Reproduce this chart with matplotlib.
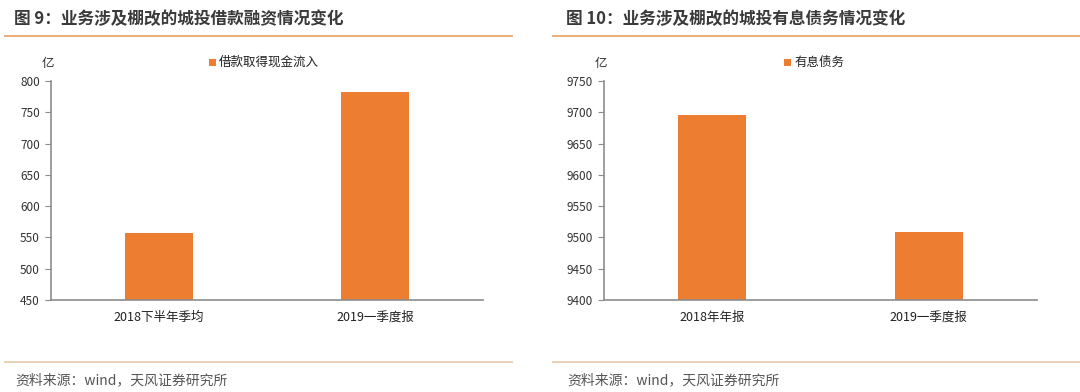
import matplotlib
matplotlib.use("Agg")
import matplotlib.pyplot as plt
from matplotlib.patches import Rectangle
from matplotlib.lines import Line2D

plt.rcParams['font.family'] = ['Noto Sans CJK SC', 'DejaVu Sans']

# Data
left_title = "图 9：业务涉及棚改的城投借款融资情况变化"
left_categories = ["2018下半年季均", "2019一季度报"]
left_values = [557, 782]
left_series = "借款取得现金流入"
left_yticks = [450, 500, 550, 600, 650, 700, 750, 800]

right_title = "图 10：业务涉及棚改的城投有息债务情况变化"
right_categories = ["2018年年报", "2019一季度报"]
right_values = [9696, 9509]
right_series = "有息债务"
right_yticks = [9400, 9450, 9500, 9550, 9600, 9650, 9700, 9750]

unit = "亿"
source = "资料来源：wind，天风证券研究所"

W, H = 1080, 392
BAR = "#ED7D31"
TXT = "#333333"
AX = "#8C8C8C"

fig = plt.figure(figsize=(W / 100, H / 100), dpi=100)
fig.patch.set_facecolor("white")

def fx(x):
    return x / W

def fy(y):
    return 1 - y / H

def panel(x0, x1, ax_l, ax_r, title, title_x, cats, vals, series, yticks, bw, leg_x):
    # title
    fig.text(fx(title_x), fy(19), title, fontsize=12, fontweight='bold',
             color="#3a3a3a", va='center', ha='left')
    fig.add_artist(Line2D([fx(x0), fx(x1)], [fy(36), fy(36)], color="#E9A56B", lw=1.3))
    fig.add_artist(Line2D([fx(x0), fx(x1)], [fy(362), fy(362)], color="#E6CDAE", lw=1.3))
    fig.text(fx(title_x + 1), fy(380), source, fontsize=10, color="#555555",
             va='center', ha='left')

    ax = fig.add_axes([fx(ax_l), fy(300), fx(ax_r - ax_l), (300 - 81) / H])
    xs = list(range(len(cats)))
    ax.bar(xs, vals, width=bw, color=BAR, label=series, zorder=2)
    ax.set_xlim(-0.5, len(cats) - 0.5)
    ax.set_ylim(yticks[0], yticks[-1])
    ax.set_yticks(yticks)
    ax.set_yticklabels([str(t) for t in yticks], fontsize=8.5, color=TXT,
                       fontweight='medium')
    ax.set_xticks(xs)
    ax.set_xticklabels(cats, fontsize=9, color="#222222")
    for s in ["top", "right"]:
        ax.spines[s].set_visible(False)
    for s in ["left", "bottom"]:
        ax.spines[s].set_color(AX)
        ax.spines[s].set_linewidth(1.2)
    ax.tick_params(axis='y', length=4, color=AX, pad=4)
    ax.tick_params(axis='x', length=0, pad=8)
    ax.set_facecolor("none")
    # unit label
    fig.text(fx(ax_l - 3), fy(63), unit, fontsize=9, color=TXT, va='center', ha='center')
    # legend
    fig.add_artist(Rectangle((fx(leg_x), fy(66)), fx(7), 7 / H,
                             facecolor=BAR, edgecolor='none', transform=fig.transFigure))
    fig.text(fx(leg_x + 10), fy(62), series, fontsize=9, color="#222222",
             va='center', ha='left')
    return ax

panel(5, 512, 51, 483, left_title, 14, left_categories, left_values, left_series,
      left_yticks, 0.315, 209)
panel(553, 1080, 604, 1037, right_title, 566, right_categories, right_values, right_series,
      right_yticks, 0.315, 784)

fig.savefig("out.png", dpi=100, facecolor="white")
